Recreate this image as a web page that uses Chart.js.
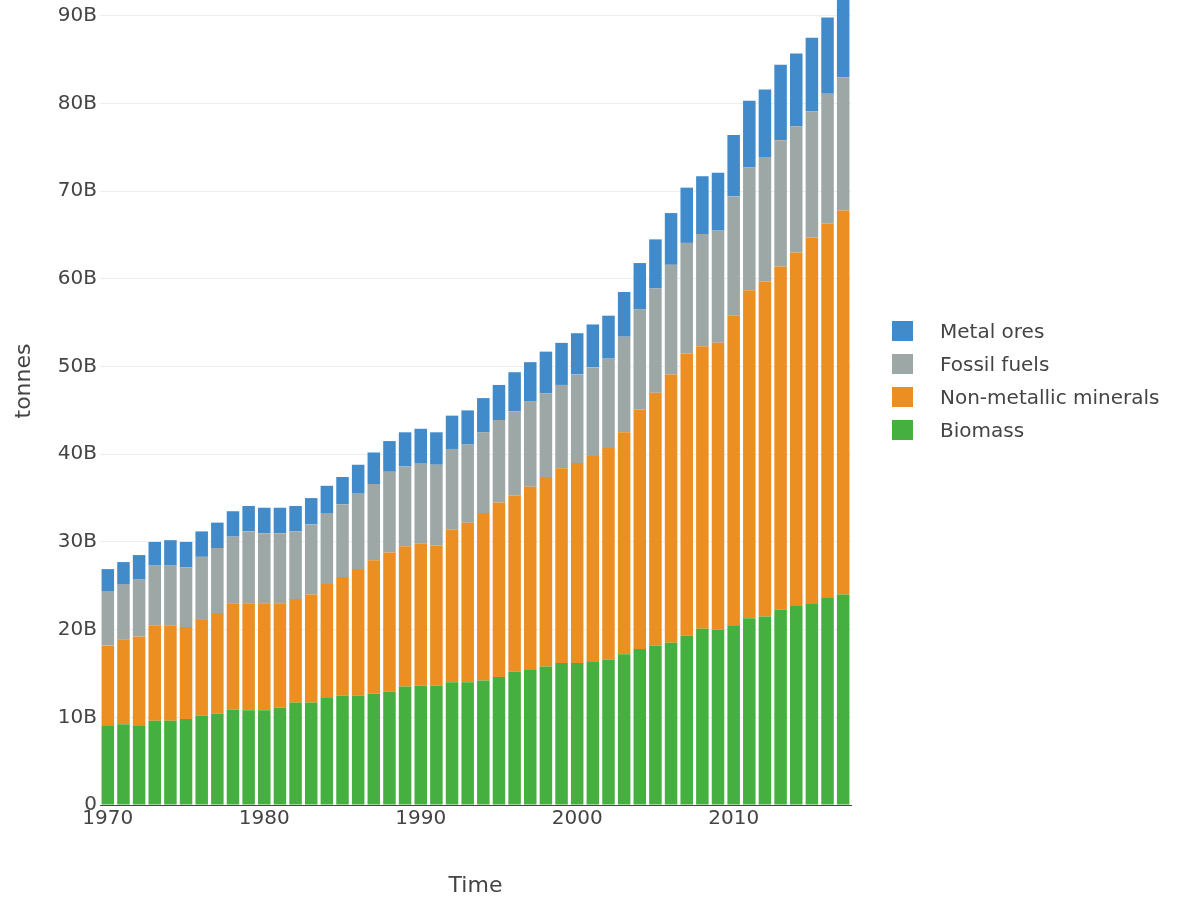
<!DOCTYPE html>
<html>
<head>
<meta charset="utf-8">
<script src="https://cdn.jsdelivr.net/npm/chart.js@4.4.0/dist/chart.umd.min.js"></script>
<style>
    html, body { margin: 0; padding: 0; background: #fff; overflow: hidden; }
    #wrap { position: absolute; left: 0; top: -43px; width: 1188px; height: 940px; }
    #legend { position: absolute; left: 892px; top: 321px; font-family: "DejaVu Sans", sans-serif; font-size: 20px; color: #444; }
    .legend-row { position: relative; height: 33px; }
    .legend-box { position: absolute; left: 0; top: 0; width: 21px; height: 20px; }
    .legend-text { position: absolute; left: 48px; top: -2px; white-space: nowrap; line-height: 24px; }
</style>
</head>
<body>
<div id="wrap"><canvas id="materialChart" width="1188" height="940"></canvas></div>
<div id="legend"></div>
<script>
// Material extraction by type, billions of tonnes
const years = [];
for (let y = 1970; y <= 2017; y++) years.push(String(y));

const biomass = [9.0, 9.2, 9.0, 9.6, 9.6, 9.8, 10.2, 10.4, 10.9, 10.8,
    10.8, 11.1, 11.7, 11.7, 12.3, 12.5, 12.5, 12.7, 12.9, 13.5,
    13.6, 13.6, 14.0, 14.0, 14.2, 14.6, 15.2, 15.4, 15.8, 16.2,
    16.2, 16.4, 16.6, 17.2, 17.8, 18.2, 18.5, 19.3, 20.1, 20.0,
    20.5, 21.3, 21.5, 22.3, 22.7, 23.0, 23.6, 24.0];
const nonMetallic = [9.2, 9.7, 10.2, 10.9, 10.9, 10.5, 10.9, 11.5, 12.1, 12.2,
    12.2, 11.9, 11.8, 12.3, 12.9, 13.5, 14.4, 15.2, 15.9, 16.0,
    16.2, 16.0, 17.4, 18.2, 19.1, 19.9, 20.1, 20.9, 21.6, 22.2,
    22.8, 23.4, 24.1, 25.3, 27.3, 28.8, 30.6, 32.2, 32.2, 32.7,
    35.3, 37.4, 38.2, 39.1, 40.3, 41.7, 42.7, 43.8];
const fossilFuels = [6.2, 6.3, 6.5, 6.8, 6.8, 6.8, 7.2, 7.4, 7.6, 8.2,
    8.0, 8.0, 7.7, 8.0, 8.1, 8.3, 8.6, 8.7, 9.2, 9.1,
    9.2, 9.2, 9.2, 8.9, 9.2, 9.4, 9.6, 9.7, 9.55, 9.5,
    10.1, 10.1, 10.2, 10.9, 11.4, 11.9, 12.5, 12.6, 12.8, 12.8,
    13.6, 14.0, 14.2, 14.4, 14.4, 14.4, 14.8, 15.2];
const metalOres = [2.5, 2.5, 2.8, 2.7, 2.9, 2.9, 2.9, 2.9, 2.9, 2.9,
    2.9, 2.9, 2.9, 3.0, 3.1, 3.1, 3.3, 3.6, 3.5, 3.9,
    3.9, 3.7, 3.8, 3.9, 3.9, 4.0, 4.45, 4.5, 4.75, 4.8,
    4.7, 4.9, 4.9, 5.1, 5.3, 5.6, 5.9, 6.3, 6.6, 6.6,
    7.0, 7.6, 7.7, 8.6, 8.3, 8.4, 8.7, 9.1];

const yTicks = [0, 10, 20, 30, 40, 50, 60, 70, 80, 90];

const textColor = '#444';
const fontFamily = '"DejaVu Sans", sans-serif';

function makeSet(label, data, color) {
    return {
        label: label,
        data: data,
        backgroundColor: color,
        borderWidth: 0,
        barPercentage: 0.8,
        categoryPercentage: 1.0
    };
}

const chart = new Chart(document.getElementById('materialChart').getContext('2d'), {
    type: 'bar',
    data: {
        labels: years,
        datasets: [
            makeSet('Biomass', biomass, '#45b03f'),
            makeSet('Non-metallic minerals', nonMetallic, '#ec8f22'),
            makeSet('Fossil fuels', fossilFuels, '#9ca7a6'),
            makeSet('Metal ores', metalOres, '#428bca')
        ]
    },
    options: {
        responsive: false,
        animation: false,
        devicePixelRatio: 1,
        layout: { padding: { left: 0, right: 337, top: 0, bottom: 0 } },
        scales: {
            x: {
                stacked: true,
                grid: { display: false, drawTicks: false },
                border: { display: true, color: '#444', width: 1 },
                ticks: {
                    autoSkip: false,
                    maxRotation: 0,
                    padding: 2,
                    color: textColor,
                    font: { family: fontFamily, size: 20 },
                    callback: function(value, index) {
                        const yr = Number(years[index]);
                        return yr % 10 === 0 ? String(yr) : '';
                    }
                },
                title: {
                    display: true,
                    text: 'Time',
                    color: textColor,
                    padding: { top: 0, bottom: 0 },
                    font: { family: fontFamily, size: 22, lineHeight: 1 }
                },
                afterFit: function(scale) { scale.height = 92; }
            },
            y: {
                stacked: true,
                min: 0,
                max: 96.7,
                grid: { color: '#eeeeee', drawTicks: false },
                border: { display: false },
                afterBuildTicks: function(scale) {
                    scale.ticks = yTicks.map(v => ({ value: v }));
                },
                ticks: {
                    padding: 3,
                    color: textColor,
                    font: { family: fontFamily, size: 20 },
                    callback: function(value) {
                        return value === 0 ? '0' : value + 'B';
                    }
                },
                title: {
                    display: true,
                    text: 'tonnes',
                    color: textColor,
                    padding: { top: 13, bottom: 0 },
                    font: { family: fontFamily, size: 22, lineHeight: 1 }
                },
                afterFit: function(scale) {
                    scale.width = 100;
                    // no extra room for the end labels, plot runs to the canvas top
                    scale.paddingTop = 0;
                    scale.paddingBottom = 0;
                }
            }
        },
        plugins: {
            legend: { display: false },
            tooltip: { enabled: false }
        }
    }
});

// HTML legend, topmost stack segment first
const legendEl = document.getElementById('legend');
chart.data.datasets.slice().reverse().forEach(ds => {
    const row = document.createElement('div');
    row.className = 'legend-row';
    const box = document.createElement('div');
    box.className = 'legend-box';
    box.style.background = ds.backgroundColor;
    const txt = document.createElement('div');
    txt.className = 'legend-text';
    txt.textContent = ds.label;
    row.appendChild(box);
    row.appendChild(txt);
    legendEl.appendChild(row);
});
</script>
</body>
</html>
